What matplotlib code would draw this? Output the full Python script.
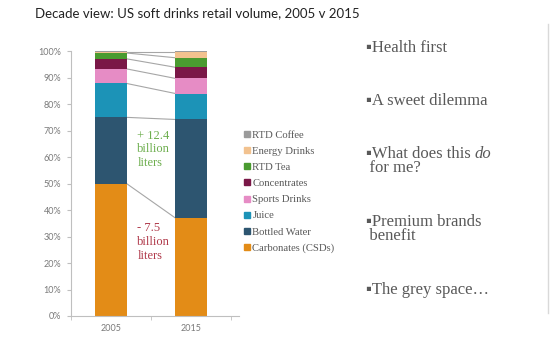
import matplotlib
matplotlib.use("Agg")
import matplotlib.pyplot as plt
from matplotlib.lines import Line2D
import numpy as np

years = ["2005", "2015"]
categories = ["Carbonates (CSDs)", "Bottled Water", "Juice", "Sports Drinks",
              "Concentrates", "RTD Tea", "Energy Drinks", "RTD Coffee"]
share_2005 = [50.0, 25.0, 12.8, 5.5, 3.8, 2.2, 0.4, 0.3]
share_2015 = [37.0, 37.2, 9.8, 5.7, 4.2, 3.6, 2.2, 0.3]
colors = ["#E38C17", "#2D5570", "#1C93B7", "#E68CC5",
          "#7A1747", "#4A9B30", "#F2C28F", "#9B9B9B"]

serif = ["Liberation Serif", "DejaVu Serif"]
bfont = ["Liberation Serif", "DejaVu Sans"]
grey = "#595959"
W, H = 550, 340


def fy(py):
    return 1 - py / H


fig = plt.figure(figsize=(5.5, 3.4), dpi=100)
ax = fig.add_axes([0.129, 0.0706, 0.291, 0.779])

x = np.arange(len(years))
width = 0.39
vals = np.array([share_2005, share_2015]).T
bottoms = np.zeros(2)
for cat, v, c in zip(categories, vals, colors):
    ax.bar(x, v, width, bottom=bottoms, color=c, label=cat, zorder=2)
    bottoms = bottoms + v
    # series lines between the two bars
    if bottoms[0] < 99.95:
        ax.plot([x[0] + width / 2, x[1] - width / 2], [bottoms[0], bottoms[1]],
                color="#a6a6a6", lw=0.8, zorder=1)

ax.set_xlim(-0.5, 1.5)
ax.set_ylim(0, 100)
ax.set_yticks(np.arange(0, 101, 10))
ax.set_yticklabels([f"{t}%" for t in range(0, 101, 10)])
ax.set_xticks(x)
ax.set_xticklabels(years)
ax.set_xticks([-0.5, 0.5, 1.5], minor=True)
ax.tick_params(axis="x", which="major", length=0, pad=6)
ax.tick_params(axis="x", which="minor", length=3, color="#bfbfbf")
ax.tick_params(axis="y", length=3, color="#bfbfbf", pad=4)
for lab in ax.get_xticklabels() + ax.get_yticklabels():
    lab.set_fontsize(6.5)
    lab.set_color("#7a7a7a")
    lab.set_family("Lato")
for s in ["top", "right"]:
    ax.spines[s].set_visible(False)
for s in ["left", "bottom"]:
    ax.spines[s].set_color("#bfbfbf")
    ax.spines[s].set_linewidth(0.8)
ax.spines["bottom"].set_bounds(-0.5, 1.6)

# annotations
ax.text(0.33, 70.4, "+ 12.4\nbillion\nliters", color="#6DAE4E", fontsize=9,
        family=serif, va="top", ha="left", linespacing=1.2)
ax.text(0.33, 35.5, "- 7.5\nbillion\nliters", color="#B0394A", fontsize=9,
        family=serif, va="top", ha="left", linespacing=1.2)

# legend
handles = [Line2D([], [], marker="s", ls="", color=c, markersize=4)
           for c in colors][::-1]
fig.legend(handles, categories[::-1], loc="upper left",
           bbox_to_anchor=(238 / W, fy(125)),
           frameon=False, prop={"family": serif, "size": 7.7}, labelcolor="#595959",
           handlelength=0.6, handletextpad=0.25, labelspacing=0.62, borderpad=0)

# title
fig.text(35 / W, fy(17), "Decade view: US soft drinks retail volume, 2005 v 2015",
         fontsize=9.5, family="Lato", color="#222222", va="baseline")

# bullet points on the right (y = baseline of the last line, in pixels)
bx = 366 / W
fs = 12
bullets = [("▪Health first", 52), ("▪A sweet dilemma", 105),
           ("▪What does this\n\u2009for me?", 172), ("▪Premium brands\n\u2009benefit", 239.5),
           ("▪The grey space…", 293.5)]
for txt, yb in bullets:
    fig.text(bx, fy(yb), txt, fontsize=fs, family=bfont, color=grey,
             va="baseline", linespacing=0.8)

fig.canvas.draw()
r = fig.canvas.get_renderer()
# width of the first line of the third bullet, for the italic "do"
probe = fig.text(bx, 0.5, "▪What does this", fontsize=fs, family=bfont)
bb = probe.get_window_extent(r).transformed(fig.transFigure.inverted())
probe.remove()
fig.text(bb.x1 + 3.5 / W, fy(158), "do", fontsize=fs, family=serif, style="italic",
         color=grey, va="baseline")

# slide edge line
fig.add_artist(Line2D([548 / W, 548 / W], [0.08, 0.93], color="#d9d9d9", lw=1,
                      transform=fig.transFigure))

fig.savefig("out.png", dpi=100)
